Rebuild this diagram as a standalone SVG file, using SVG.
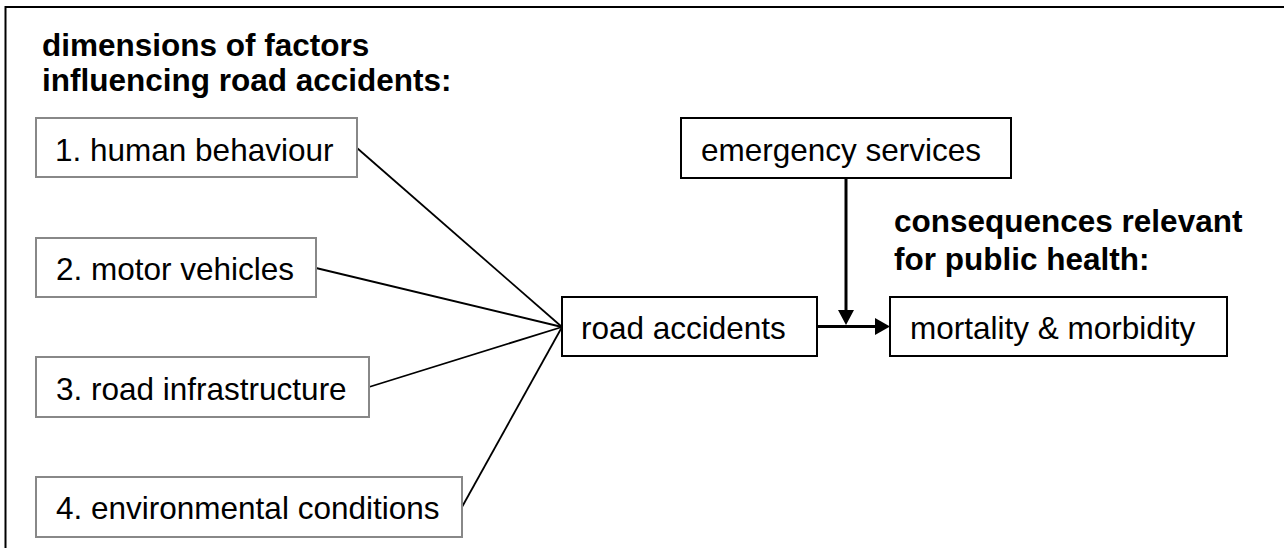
<svg xmlns="http://www.w3.org/2000/svg" width="1284" height="548" viewBox="0 0 1284 548">
  <style>
    text { font-family: "Liberation Sans", Arial, sans-serif; font-size: 31.5px; fill: #000; }
    .head { font-weight: bold; }
    .gbox { fill: #fff; stroke: #888; stroke-width: 2; }
    .bbox { fill: #fff; stroke: #000; stroke-width: 2; }
    .thin { stroke: #000; stroke-width: 1.8; fill: none; }
    .thick { stroke: #000; stroke-width: 3; fill: none; }
  </style>
  <rect width="1284" height="548" fill="#fff"/>
  <path id="frame" d="M5.5,548 V7 H1284" fill="none" stroke="#000" stroke-width="2"/>
  <g id="heading-factors">
    <text class="head" x="42" y="56">dimensions of factors</text>
    <text class="head" x="42" y="91">influencing road accidents:</text>
  </g>
  <g id="heading-consequences">
    <text class="head" x="894" y="232">consequences relevant</text>
    <text class="head" x="894" y="270">for public health:</text>
  </g>
  <g id="connectors">
    <line class="thin" x1="357" y1="148" x2="562" y2="327"/>
    <line class="thin" x1="316" y1="268" x2="562" y2="327"/>
    <line class="thin" x1="369" y1="387" x2="562" y2="327"/>
    <line class="thin" x1="462" y1="507" x2="562" y2="327"/>
    <line class="thick" x1="817" y1="326.5" x2="876" y2="326.5"/>
    <polygon points="875,318 890,326.5 875,335" fill="#000"/>
    <line class="thick" x1="846" y1="178" x2="846" y2="311"/>
    <polygon points="838,310 854,310 846,325" fill="#000"/>
  </g>
  <g id="node-human">
    <rect class="gbox" x="36" y="118" width="321" height="59"/>
    <text x="55" y="161">1. human behaviour</text>
  </g>
  <g id="node-vehicles">
    <rect class="gbox" x="36" y="238" width="280" height="59"/>
    <text x="56" y="280">2. motor vehicles</text>
  </g>
  <g id="node-infrastructure">
    <rect class="gbox" x="36" y="357" width="333" height="60"/>
    <text x="56" y="400">3. road infrastructure</text>
  </g>
  <g id="node-environment">
    <rect class="gbox" x="36" y="477" width="426" height="60"/>
    <text x="56" y="519">4. environmental conditions</text>
  </g>
  <g id="node-accidents">
    <rect class="bbox" x="562" y="297" width="255" height="59"/>
    <text x="581" y="339">road accidents</text>
  </g>
  <g id="node-emergency">
    <rect class="bbox" x="681" y="118" width="330" height="60"/>
    <text x="701" y="161">emergency services</text>
  </g>
  <g id="node-mortality">
    <rect class="bbox" x="890" y="297" width="337" height="59"/>
    <text x="910" y="339">mortality &amp; morbidity</text>
  </g>
</svg>
